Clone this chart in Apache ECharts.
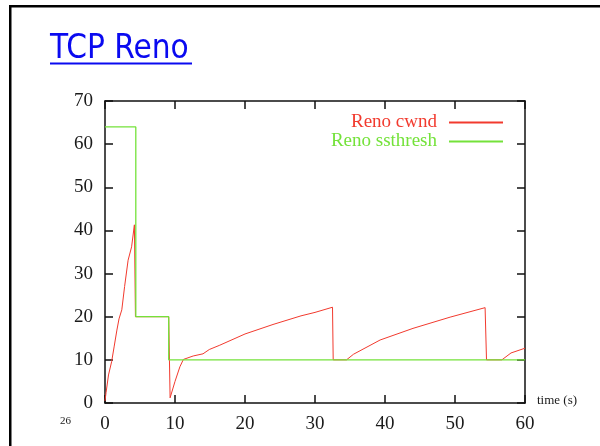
<!DOCTYPE html>
<html><head><meta charset="utf-8">
<script src="https://cdn.jsdelivr.net/npm/echarts@6/dist/echarts.min.js"></script>
<style>html,body{margin:0;padding:0;background:#fff}#c{width:600px;height:446px}</style>
</head><body><div id="c"></div>
<script>
// Reno cwnd samples (time in s, window)
const cwndTime  = [0, 0.15, 0.5, 0.95, 1.3, 1.7, 2.0, 2.4, 2.8, 3.3, 3.8, 4.2, 4.35, 9.1, 9.3, 10, 10.7, 11.2, 12.6, 14, 14.9, 16.4, 20, 24, 28, 30, 32.5, 32.6, 34.5, 35.5, 39.3, 44, 49.3, 54.3, 54.5, 56.7, 58, 60];
const cwndValue = [0.5, 2.4, 6.5, 9.6, 13, 16.9, 19.5, 21.6, 27, 33.1, 36.2, 41.3, 20, 20, 1.2, 5, 8.4, 10.1, 10.9, 11.4, 12.4, 13.4, 16, 18.2, 20.2, 21, 22.2, 10, 10, 11.3, 14.6, 17.3, 19.9, 22.1, 10, 10, 11.6, 12.7];
// Reno ssthresh step points
const ssTime  = [0, 4.4, 4.4, 9.1, 9.1, 60];
const ssValue = [64, 64, 20, 20, 10, 10];
const xTicks = [0, 10, 20, 30, 40, 50, 60];
const yTicks = [0, 10, 20, 30, 40, 50, 60, 70];
const seriesNames = ['Reno cwnd', 'Reno ssthresh'];

const RED = '#f23a2e', GREEN = '#74e23a';
const pairs = (a, b) => a.map((v, i) => [v, b[i]]);
const serif = 'Liberation Serif';
const chart = echarts.init(document.getElementById('c'), null, {renderer: 'canvas'});
const axisLine = {show: true, onZero: false, lineStyle: {color: '#111', width: 1.5}};
const tick = {show: true, inside: true, length: 8, lineStyle: {color: '#111', width: 1.5}};
chart.setOption({
  animation: false,
  backgroundColor: '#fff',
  grid: {left: 105, right: 75, top: 101, bottom: 43, containLabel: false},
  xAxis: [
    {type: 'value', position: 'bottom', min: xTicks[0], max: xTicks[xTicks.length-1], interval: 10,
     axisLine, axisTick: tick, splitLine: {show: false},
     axisLabel: {fontFamily: serif, fontSize: 19, color: '#1a1a1a', margin: 12}},
    {type: 'value', position: 'top', min: xTicks[0], max: xTicks[xTicks.length-1], interval: 10,
     axisLine, axisTick: tick, splitLine: {show: false}, axisLabel: {show: false}}
  ],
  yAxis: [
    {type: 'value', position: 'left', min: yTicks[0], max: yTicks[yTicks.length-1], interval: 10,
     axisLine, axisTick: tick, splitLine: {show: false},
     axisLabel: {fontFamily: serif, fontSize: 19, color: '#1a1a1a', margin: 12}},
    {type: 'value', position: 'right', min: yTicks[0], max: yTicks[yTicks.length-1], interval: 10,
     axisLine, axisTick: tick, splitLine: {show: false}, axisLabel: {show: false}}
  ],
  legend: {
    orient: 'vertical', right: 92, top: 108, align: 'right',
    itemWidth: 54, itemHeight: 2, itemGap: 0, icon: 'rect',
    data: [
      {name: seriesNames[0], textStyle: {color: RED}},
      {name: seriesNames[1], textStyle: {color: GREEN}}
    ],
    textStyle: {fontFamily: serif, fontSize: 19, padding: [0, 7, 0, 0]}
  },
  series: [
    {name: seriesNames[0], type: 'line', data: pairs(cwndTime, cwndValue), showSymbol: false,
     lineStyle: {color: RED, width: 1}, itemStyle: {color: RED}},
    {name: seriesNames[1], type: 'line', data: pairs(ssTime, ssValue), showSymbol: false,
     lineStyle: {color: GREEN, width: 1.3}, itemStyle: {color: GREEN}}
  ],
  graphic: [
    {type: 'rect', shape: {x: 9, y: 5, width: 600, height: 2.5}, style: {fill: '#000'}},
    {type: 'rect', shape: {x: 9, y: 5, width: 2.5, height: 450}, style: {fill: '#000'}},
    {type: 'text', x: 50, y: 33, style: {text: 'TCP Reno', fill: '#0a0af0', font: '33px "DejaVu Sans Condensed", "DejaVu Sans"', verticalAlign: 'top', textVerticalAlign: 'top'}},
    {type: 'rect', shape: {x: 50, y: 62.5, width: 142, height: 2}, style: {fill: '#0a0af0'}},
    {type: 'text', x: 537, y: 401, style: {text: 'time (s)', fill: '#1a1a1a', font: '13px "Liberation Serif"', verticalAlign: 'middle', textVerticalAlign: 'middle'}},
    {type: 'text', x: 60, y: 421, style: {text: '26', fill: '#1a1a1a', font: '11px "Liberation Serif"', verticalAlign: 'middle', textVerticalAlign: 'middle'}}
  ]
});
</script></body></html>
